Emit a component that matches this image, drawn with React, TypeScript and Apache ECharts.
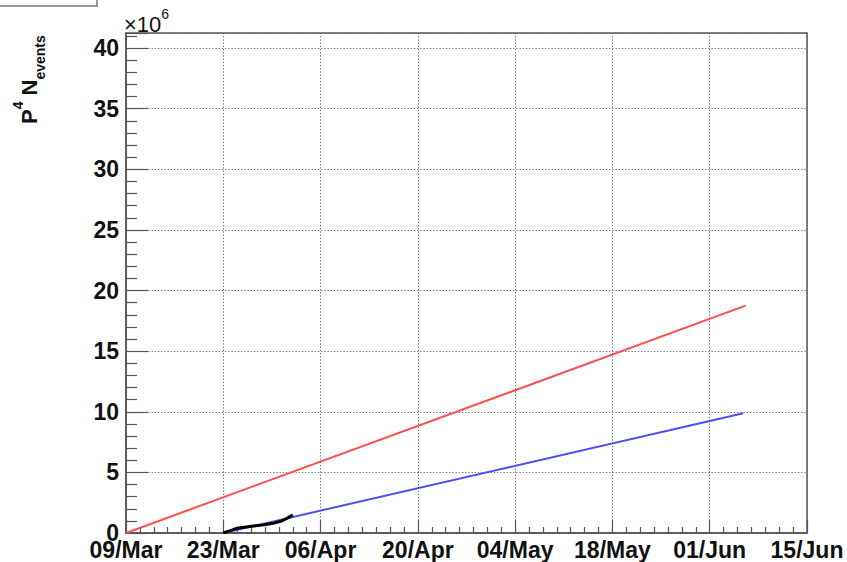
import React, { useEffect, useRef } from "react";
import * as echarts from "echarts";

const ORIGIN = "2020-03-09T00:00";
const xTickLabels = ["09/Mar", "23/Mar", "06/Apr", "20/Apr", "04/May", "18/May", "01/Jun", "15/Jun"];

const redDates = ["2020-03-09T00:00", "2020-06-06T04:00"];
const redValues = [0, 18.75];

const blueDates = ["2020-03-23T00:00", "2020-06-05T20:00"];
const blueValues = [0, 9.87];

const blackDates = [
  "2020-03-23T00:00",
  "2020-03-24T00:00",
  "2020-03-25T00:00",
  "2020-03-26T00:00",
  "2020-03-27T08:00",
  "2020-03-28T20:00",
  "2020-03-30T04:00",
  "2020-03-31T10:00",
  "2020-04-01T10:00",
  "2020-04-02T00:00",
];
const blackValues = [0, 0.19, 0.39, 0.47, 0.58, 0.68, 0.8, 0.99, 1.29, 1.5];

const dayOffset = (s: string) =>
  (Date.parse(s + "Z") - Date.parse(ORIGIN + "Z")) / 86400000;

const pairs = (dates: string[], vals: number[]) =>
  dates.map((d, i) => [dayOffset(d), vals[i]]);

const FONT = "Liberation Sans, Arial, Helvetica, sans-serif";
const AXIS_COLOR = "#555";

export default function App() {
  const ref = useRef<HTMLDivElement>(null);
  useEffect(() => {
    if (!ref.current) return;
    const chart = echarts.init(ref.current, undefined, { renderer: "svg" });
    chart.setOption({
      animation: false,
      backgroundColor: "#fff",
      grid: {
        left: 126,
        top: 33,
        right: 40,
        bottom: 29,
        show: true,
        borderColor: AXIS_COLOR,
        borderWidth: 1.5,
        backgroundColor: "transparent",
      },
      xAxis: {
        type: "value",
        min: 0,
        max: 98,
        interval: 14,
        axisLine: { show: true, lineStyle: { color: AXIS_COLOR, width: 1.5 } },
        axisTick: { show: true, inside: true, length: 13, lineStyle: { color: AXIS_COLOR, width: 1.2 } },
        minorTick: { show: true, splitNumber: 7, length: 6, lineStyle: { color: AXIS_COLOR, width: 1.2 } },
        splitLine: { show: true, lineStyle: { color: "#666", width: 1, type: [1.2, 2] } },
        axisLabel: {
          margin: 5,
          color: "#111",
          fontFamily: FONT,
          fontWeight: "bold",
          fontSize: 23,
          formatter: (v: number) => xTickLabels[Math.round(v / 14)] ?? "",
        },
      },
      yAxis: {
        type: "value",
        min: 0,
        max: 41.24,
        interval: 5,
        axisLine: { show: true, lineStyle: { color: AXIS_COLOR, width: 1.5 } },
        axisTick: { show: true, inside: true, length: 22, lineStyle: { color: AXIS_COLOR, width: 1.2 } },
        minorTick: { show: true, splitNumber: 5, length: 11, lineStyle: { color: AXIS_COLOR, width: 1.2 } },
        splitLine: { show: true, lineStyle: { color: "#666", width: 1, type: [1.2, 2] } },
        axisLabel: {
          margin: 7,
          color: "#111",
          fontFamily: FONT,
          fontWeight: "bold",
          fontSize: 23,
          showMaxLabel: false,
          formatter: (v: number) => (Math.abs(v % 5) < 1e-9 ? String(v) : ""),
        },
      },
      series: [
        {
          type: "line",
          data: pairs(redDates, redValues),
          showSymbol: false,
          lineStyle: { color: "#ff4d4d", width: 2 },
          z: 3,
        },
        {
          type: "line",
          data: pairs(blueDates, blueValues),
          showSymbol: false,
          lineStyle: { color: "#4d4dff", width: 2 },
          z: 3,
        },
        {
          type: "line",
          data: pairs(blackDates, blackValues),
          showSymbol: false,
          lineStyle: { color: "#000", width: 3 },
          z: 4,
        },
      ],
      graphic: [
        {
          type: "rect",
          shape: { x: -2, y: -20, width: 99, height: 26 },
          style: { fill: "#fff", stroke: "#777", lineWidth: 1.5 },
        },
        {
          type: "text",
          x: 124,
          y: 7,
          style: {
            text: "{m|×10}{s|6}",
            align: "left",
            verticalAlign: "top",
            fill: "#111",
            fontSize: 22,
            rich: {
              m: { fontSize: 22, fontFamily: FONT, lineHeight: 28, fill: "#111", verticalAlign: "bottom" },
              s: { fontSize: 14, fontFamily: FONT, lineHeight: 14, fill: "#111", verticalAlign: "top" },
            },
          },
        },
        {
          type: "text",
          x: 47,
          y: 124,
          rotation: Math.PI / 2,
          style: {
            text: "{m|P}{sup|4}{m| N}{sub|events}",
            align: "left",
            verticalAlign: "bottom",
            fill: "#111",
            fontSize: 22,
            rich: {
              m: { fontSize: 22, fontWeight: "bold", fontFamily: FONT, lineHeight: 36, fill: "#111" },
              sup: { fontSize: 14, fontWeight: "bold", fontFamily: FONT, lineHeight: 24, verticalAlign: "top", fill: "#111" },
              sub: { fontSize: 14, fontWeight: "bold", fontFamily: FONT, lineHeight: 14, verticalAlign: "bottom", fill: "#111" },
            },
          },
        },
      ],
    });
    return () => chart.dispose();
  }, []);
  return <div ref={ref} style={{ width: 847, height: 562, position: "absolute", left: 0, top: 0 }} />;
}
